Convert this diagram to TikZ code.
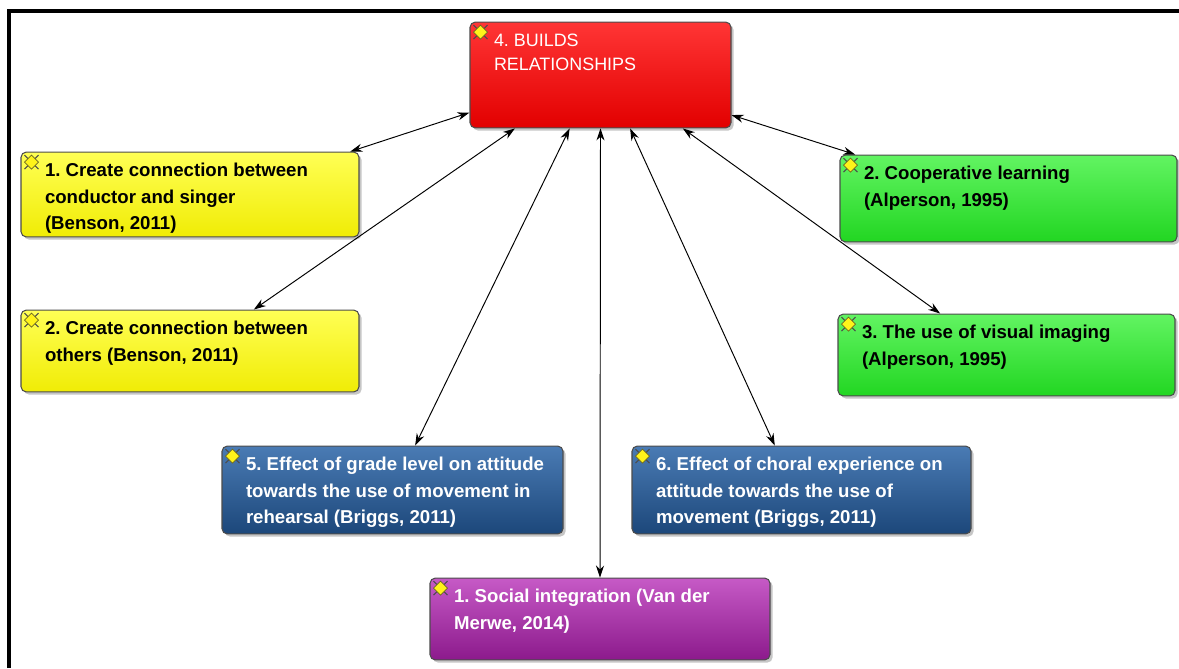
\documentclass[tikz,border=0pt]{standalone}
\usepackage{fontspec}
\setmainfont{Liberation Sans}
\usetikzlibrary{arrows.meta, shadows}
\frenchspacing

% box fills
\definecolor{redtop}{HTML}{FF3535}
\definecolor{redbot}{HTML}{E20000}
\definecolor{yeltop}{HTML}{FFFF55}
\definecolor{yelbot}{HTML}{F0EC05}
\definecolor{grntop}{HTML}{62F462}
\definecolor{grnbot}{HTML}{22D622}
\definecolor{blutop}{HTML}{4A7BB4}
\definecolor{blubot}{HTML}{1C477A}
\definecolor{purtop}{HTML}{C65AC6}
\definecolor{purbot}{HTML}{8C1A8C}

% text block inside a box: width, height, lines
\newcommand{\boxtext}[3]{\parbox[c][#2][t]{#1}{\raggedright\leftskip=0.48cm #3}}

% little gem icon at the top left corner of a box
\newcommand{\gem}[1]{%
  \begin{scope}[shift={(#1.north west)}, shift={(0.22,-0.21)}]
    \draw[gray!60!black, line width=0.6pt] (-0.14,-0.14) -- (0.14,0.14) (-0.14,0.14) -- (0.14,-0.14);
    \filldraw[fill=yellow!90!white, draw=olive!70!black, line width=0.4pt]
      (0,0.14) -- (0.14,0) -- (0,-0.14) -- (-0.14,0) -- cycle;
  \end{scope}}

\begin{document}
\begin{tikzpicture}[
    box/.style={rectangle, draw=black!70, line width=0.6pt, rounded corners=3pt,
      inner xsep=0pt, inner ysep=6.5pt,
      drop shadow={shadow xshift=1.5pt, shadow yshift=-1.5pt, opacity=0.45}},
    bold/.style={font=\fontsize{10.6}{14.8}\selectfont\bfseries},
    link/.style={{Stealth[length=2.4mm, width=1.6mm]}-{Stealth[length=2.4mm, width=1.6mm]}, line width=0.55pt}
]
\useasboundingbox (0,0) rectangle (23.58,13.36);

% frame
\draw[line width=2.2pt] (0.18,0) -- (0.18,13.14) -- (23.58,13.14);

% ============ CENTRE ============
\node[box, top color=redtop, bottom color=redbot, text=white,
      font=\fontsize{10.2}{14.2}\selectfont] (rel) at (12.01,11.86)
  {\boxtext{5.22cm}{1.66cm}{4. BUILDS\\RELATIONSHIPS}};

% ============ LEFT (yellow) ============
\node[box, bold, top color=yeltop, bottom color=yelbot] (conn1) at (3.80,9.47)
  {\boxtext{6.76cm}{1.24cm}{1. Create connection between\\conductor and singer\\(Benson, 2011)}};
\node[box, bold, top color=yeltop, bottom color=yelbot] (conn2) at (3.80,6.34)
  {\boxtext{6.76cm}{1.18cm}{2. Create connection between\\others (Benson, 2011)}};

% ============ RIGHT (green) ============
\node[box, bold, top color=grntop, bottom color=grnbot] (coop) at (20.17,9.39)
  {\boxtext{6.74cm}{1.28cm}{2. Cooperative learning\\(Alperson, 1995)}};
\node[box, bold, top color=grntop, bottom color=grnbot] (visual) at (20.13,6.26)
  {\boxtext{6.74cm}{1.18cm}{3. The use of visual imaging\\(Alperson, 1995)}};

% ============ BOTTOM (blue, purple) ============
\node[box, bold, top color=blutop, bottom color=blubot, text=white] (grade) at (7.85,3.56)
  {\boxtext{6.82cm}{1.30cm}{5. Effect of grade level on attitude\\towards the use of movement in\\rehearsal (Briggs, 2011)}};
\node[box, bold, top color=blutop, bottom color=blubot, text=white] (choral) at (16.03,3.56)
  {\boxtext{6.78cm}{1.30cm}{6. Effect of choral experience on\\attitude towards the use of\\movement (Briggs, 2011)}};
\node[box, bold, top color=purtop, bottom color=purbot, text=white] (social) at (12.00,0.98)
  {\boxtext{6.80cm}{1.18cm}{1. Social integration (Van der\\Merwe, 2014)}};

% icons
\foreach \n in {rel, conn1, conn2, coop, visual, grade, choral, social}
  {\gem{\n}}

% links
\draw[link] (rel.196) -- (conn1.15.6);
\draw[link] (rel.212) -- (conn2.33);
\draw[link] (rel.240) -- (grade.63);
\draw[link] (rel.south) -- (social.north);
\draw[link] (rel.299) -- (choral.121);
\draw[link] (rel.327) -- (visual.148);
\draw[link] (rel.343) -- (coop.164);

\end{tikzpicture}
\end{document}
